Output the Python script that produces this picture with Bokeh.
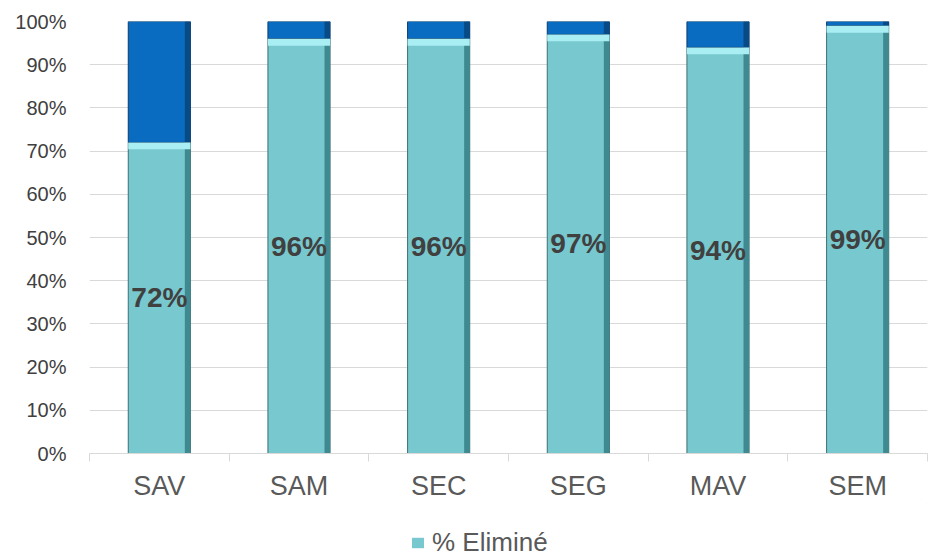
from bokeh.plotting import figure
from bokeh.layouts import column
from bokeh.models import (ColumnDataSource, FixedTicker, Legend, LegendItem, Range1d,
                          LabelSet)
from bokeh.core.properties import value
from bokeh.embed import file_html
from bokeh.resources import INLINE

categories = ["SAV", "SAM", "SEC", "SEG", "MAV", "SEM"]
elimine = [72, 96, 96, 97, 94, 99]
reste = [100 - v for v in elimine]
y_ticks = [0, 10, 20, 30, 40, 50, 60, 70, 80, 90, 100]

xs = [i + 0.5 for i in range(len(categories))]
src = ColumnDataSource(dict(
    x=xs,
    elim=elimine,
    top_all=[100] * len(categories),
    mid=[v / 2 for v in elimine],
    lab=[f"{v}%" for v in elimine],
))

FONT = "Liberation Sans"
TEAL = "#78c8cf"
W, H = 929, 503
p = figure(width=W, height=H, output_backend="svg", toolbar_location=None,
           x_range=Range1d(0, len(categories)), y_range=Range1d(0, 100),
           min_border_left=89, min_border_right=2, min_border_top=21, min_border_bottom=48)
p.outline_line_color = None
p.background_fill_color = "white"
p.border_fill_color = "white"

BW = 0.445
teal = p.vbar(x="x", bottom=0, top="elim", width=BW, source=src,
              fill_color=TEAL, line_color="#3d6f73", line_width=1)
blue = p.vbar(x="x", bottom="elim", top="top_all", width=BW, source=src,
              fill_color="#0a6cc0", line_color="#0b3d6b", line_width=1)
# bevel shading: dark right edge strips
p.vbar(x=[x + BW / 2 - 0.02 for x in xs], bottom=0, top=elimine, width=0.04,
       fill_color="#3f8a90", line_color=None)
p.vbar(x=[x + BW / 2 - 0.02 for x in xs], bottom=elimine, top=[100] * 6, width=0.04,
       fill_color="#084a85", line_color=None)
# light bevel band at top of teal segment
p.vbar(x=xs, bottom=[v - 1.6 for v in elimine], top=elimine, width=BW,
       fill_color="#a9eef2", line_color=None)

labels = LabelSet(x="x", y="mid", text="lab", source=src, text_align="center",
                  text_baseline="middle", text_font=value(FONT), text_font_style="bold",
                  text_font_size="28px", text_color="#404040")
p.add_layout(labels)

p.xgrid.grid_line_color = None
p.ygrid.grid_line_color = "#d9d9d9"
p.ygrid.grid_line_width = 1
p.ygrid.ticker = FixedTicker(ticks=y_ticks)

ya = p.yaxis[0]
ya.ticker = FixedTicker(ticks=y_ticks)
ya.major_label_overrides = {t: f"{t}%" for t in y_ticks}
ya.axis_line_color = None
ya.major_tick_line_color = None
ya.minor_tick_line_color = None
ya.major_tick_out = 0
ya.major_tick_in = 0
ya.major_label_text_font = FONT
ya.major_label_text_font_size = "20px"
ya.major_label_text_color = "#404040"
ya.major_label_standoff = 23

xa = p.xaxis[0]
xa.ticker = FixedTicker(ticks=xs, minor_ticks=list(range(len(categories) + 1)))
xa.major_label_overrides = {x: c for x, c in zip(xs, categories)}
xa.axis_line_color = "#d9d9d9"
xa.axis_line_width = 1
xa.major_tick_line_color = None
xa.major_tick_out = 0
xa.major_tick_in = 0
xa.minor_tick_line_color = "#d9d9d9"
xa.minor_tick_out = 8
xa.minor_tick_in = 0
xa.major_label_text_font = FONT
xa.major_label_text_font_size = "27px"
xa.major_label_text_color = "#595959"
xa.major_label_standoff = 9

# legend strip below the chart
lf = figure(width=W, height=55, output_backend="svg", toolbar_location=None,
            x_range=Range1d(0, 1), y_range=Range1d(0, 1),
            min_border=0, min_border_left=0, min_border_right=0,
            min_border_top=0, min_border_bottom=0)
for ax in lf.xaxis + lf.yaxis:
    ax.visible = False
    ax.axis_line_color = None
    ax.major_tick_line_color = None
    ax.minor_tick_line_color = None
    ax.major_label_text_font_size = "0px"
lf.grid.visible = False
lf.outline_line_color = None
lf.background_fill_color = "white"
lf.border_fill_color = "white"
# legend-only renderer: its bar lies outside the visible ranges, so only the key shows
leg_r = lf.vbar(x=[3], bottom=[5], top=[6], width=0.1, fill_color=TEAL,
                line_color=None)
legend = Legend(items=[LegendItem(label="% Eliminé", renderers=[leg_r])],
                orientation="horizontal", location=(321, 0),
                label_text_font=FONT, label_text_font_size="26px",
                label_text_color="#595959", glyph_width=15, glyph_height=13,
                border_line_color=None, background_fill_alpha=0,
                margin=0, padding=0, label_standoff=7)
lf.add_layout(legend)

layout = column(p, lf, spacing=0)
open("out.html", "w").write(file_html(layout, INLINE))
